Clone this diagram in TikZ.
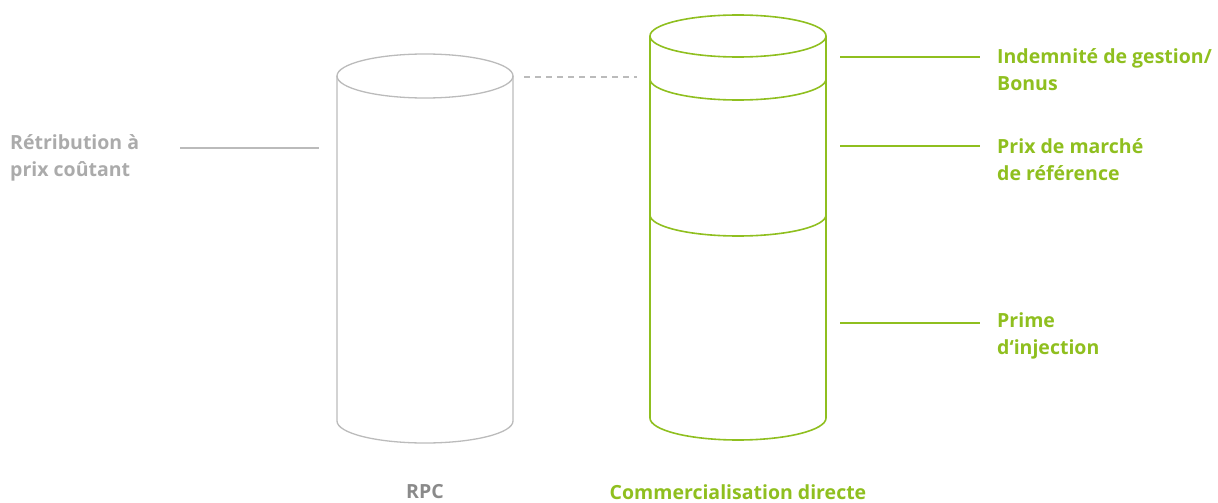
\documentclass[tikz,border=0pt]{standalone}
\usepackage{fontspec}
\setmainfont{Open Sans}
\usepackage{tikz}
\usetikzlibrary{positioning}

\definecolor{leafgreen}{HTML}{8FBF1F}
\definecolor{cylgray}{HTML}{BBBBBB}
\definecolor{labelgray}{HTML}{ABABAB}
\definecolor{rpcgray}{HTML}{8A8A8A}

\begin{document}
\begin{tikzpicture}[x=1pt, y=1pt,
    grayline/.style = {draw=cylgray, line width=1.3pt},
    greenline/.style = {draw=leafgreen, line width=1.6pt},
    tag/.style = {font=\bfseries\fontsize{19.5}{27}\selectfont, align=left, inner sep=0pt},
    foot/.style = {font=\bfseries\fontsize{19.5}{22}\selectfont, inner sep=0pt}]
    \useasboundingbox (0,0) rectangle (1218,-503);
    % Cylinders
    \draw[grayline] (337,-76) -- (337,-421) arc (180:360:88 and 22) -- (513,-76);
    \draw[grayline] (425,-76) ellipse (88 and 22);
    \draw[greenline] (650,-36) -- (650,-418) arc (180:360:88 and 22) -- (826,-36);
    \draw[greenline] (738,-36) ellipse (88 and 21);
    \draw[greenline] (650,-79) arc (180:360:88 and 21);
    \draw[greenline] (650,-215) arc (180:360:88 and 21);
    % Coordinates
    \coordinate (rpctop) at (524,-77);
    \coordinate (bandtop) at (637,-77);
    \coordinate (l1) at (180,-148);
    \coordinate (l2) at (319,-148);
    \coordinate (g1) at (840,-57);
    \coordinate (g1e) at (980,-57);
    \coordinate (g2) at (840,-146);
    \coordinate (g2e) at (980,-146);
    \coordinate (g3) at (840,-323);
    \coordinate (g3e) at (980,-323);
    % Labels
    \node[tag, text=labelgray, anchor=west] (retrib) at (10,-158) {Rétribution à\\prix coûtant};
    \node[tag, text=leafgreen, anchor=west] (bonus) at (997,-70) {Indemnité de gestion/\\Bonus};
    \node[tag, text=leafgreen, anchor=west] (marche) at (997,-160) {Prix de marché\\de référence};
    \node[tag, text=leafgreen, anchor=west] (prime) at (997,-336) {Prime\\d‘injection};
    \node[foot, text=rpcgray] (rpc) at (425,-492) {RPC};
    \node[foot, text=leafgreen] (direct) at (738,-492) {Commercialisation directe};
    % Connectors
    \draw[grayline, dash pattern=on 6pt off 5pt, line width=1.1pt] (rpctop) -- (bandtop);
    \draw[grayline] (l1) -- (l2);
    \draw[greenline] (g1) -- (g1e);
    \draw[greenline] (g2) -- (g2e);
    \draw[greenline] (g3) -- (g3e);
\end{tikzpicture}
\end{document}
